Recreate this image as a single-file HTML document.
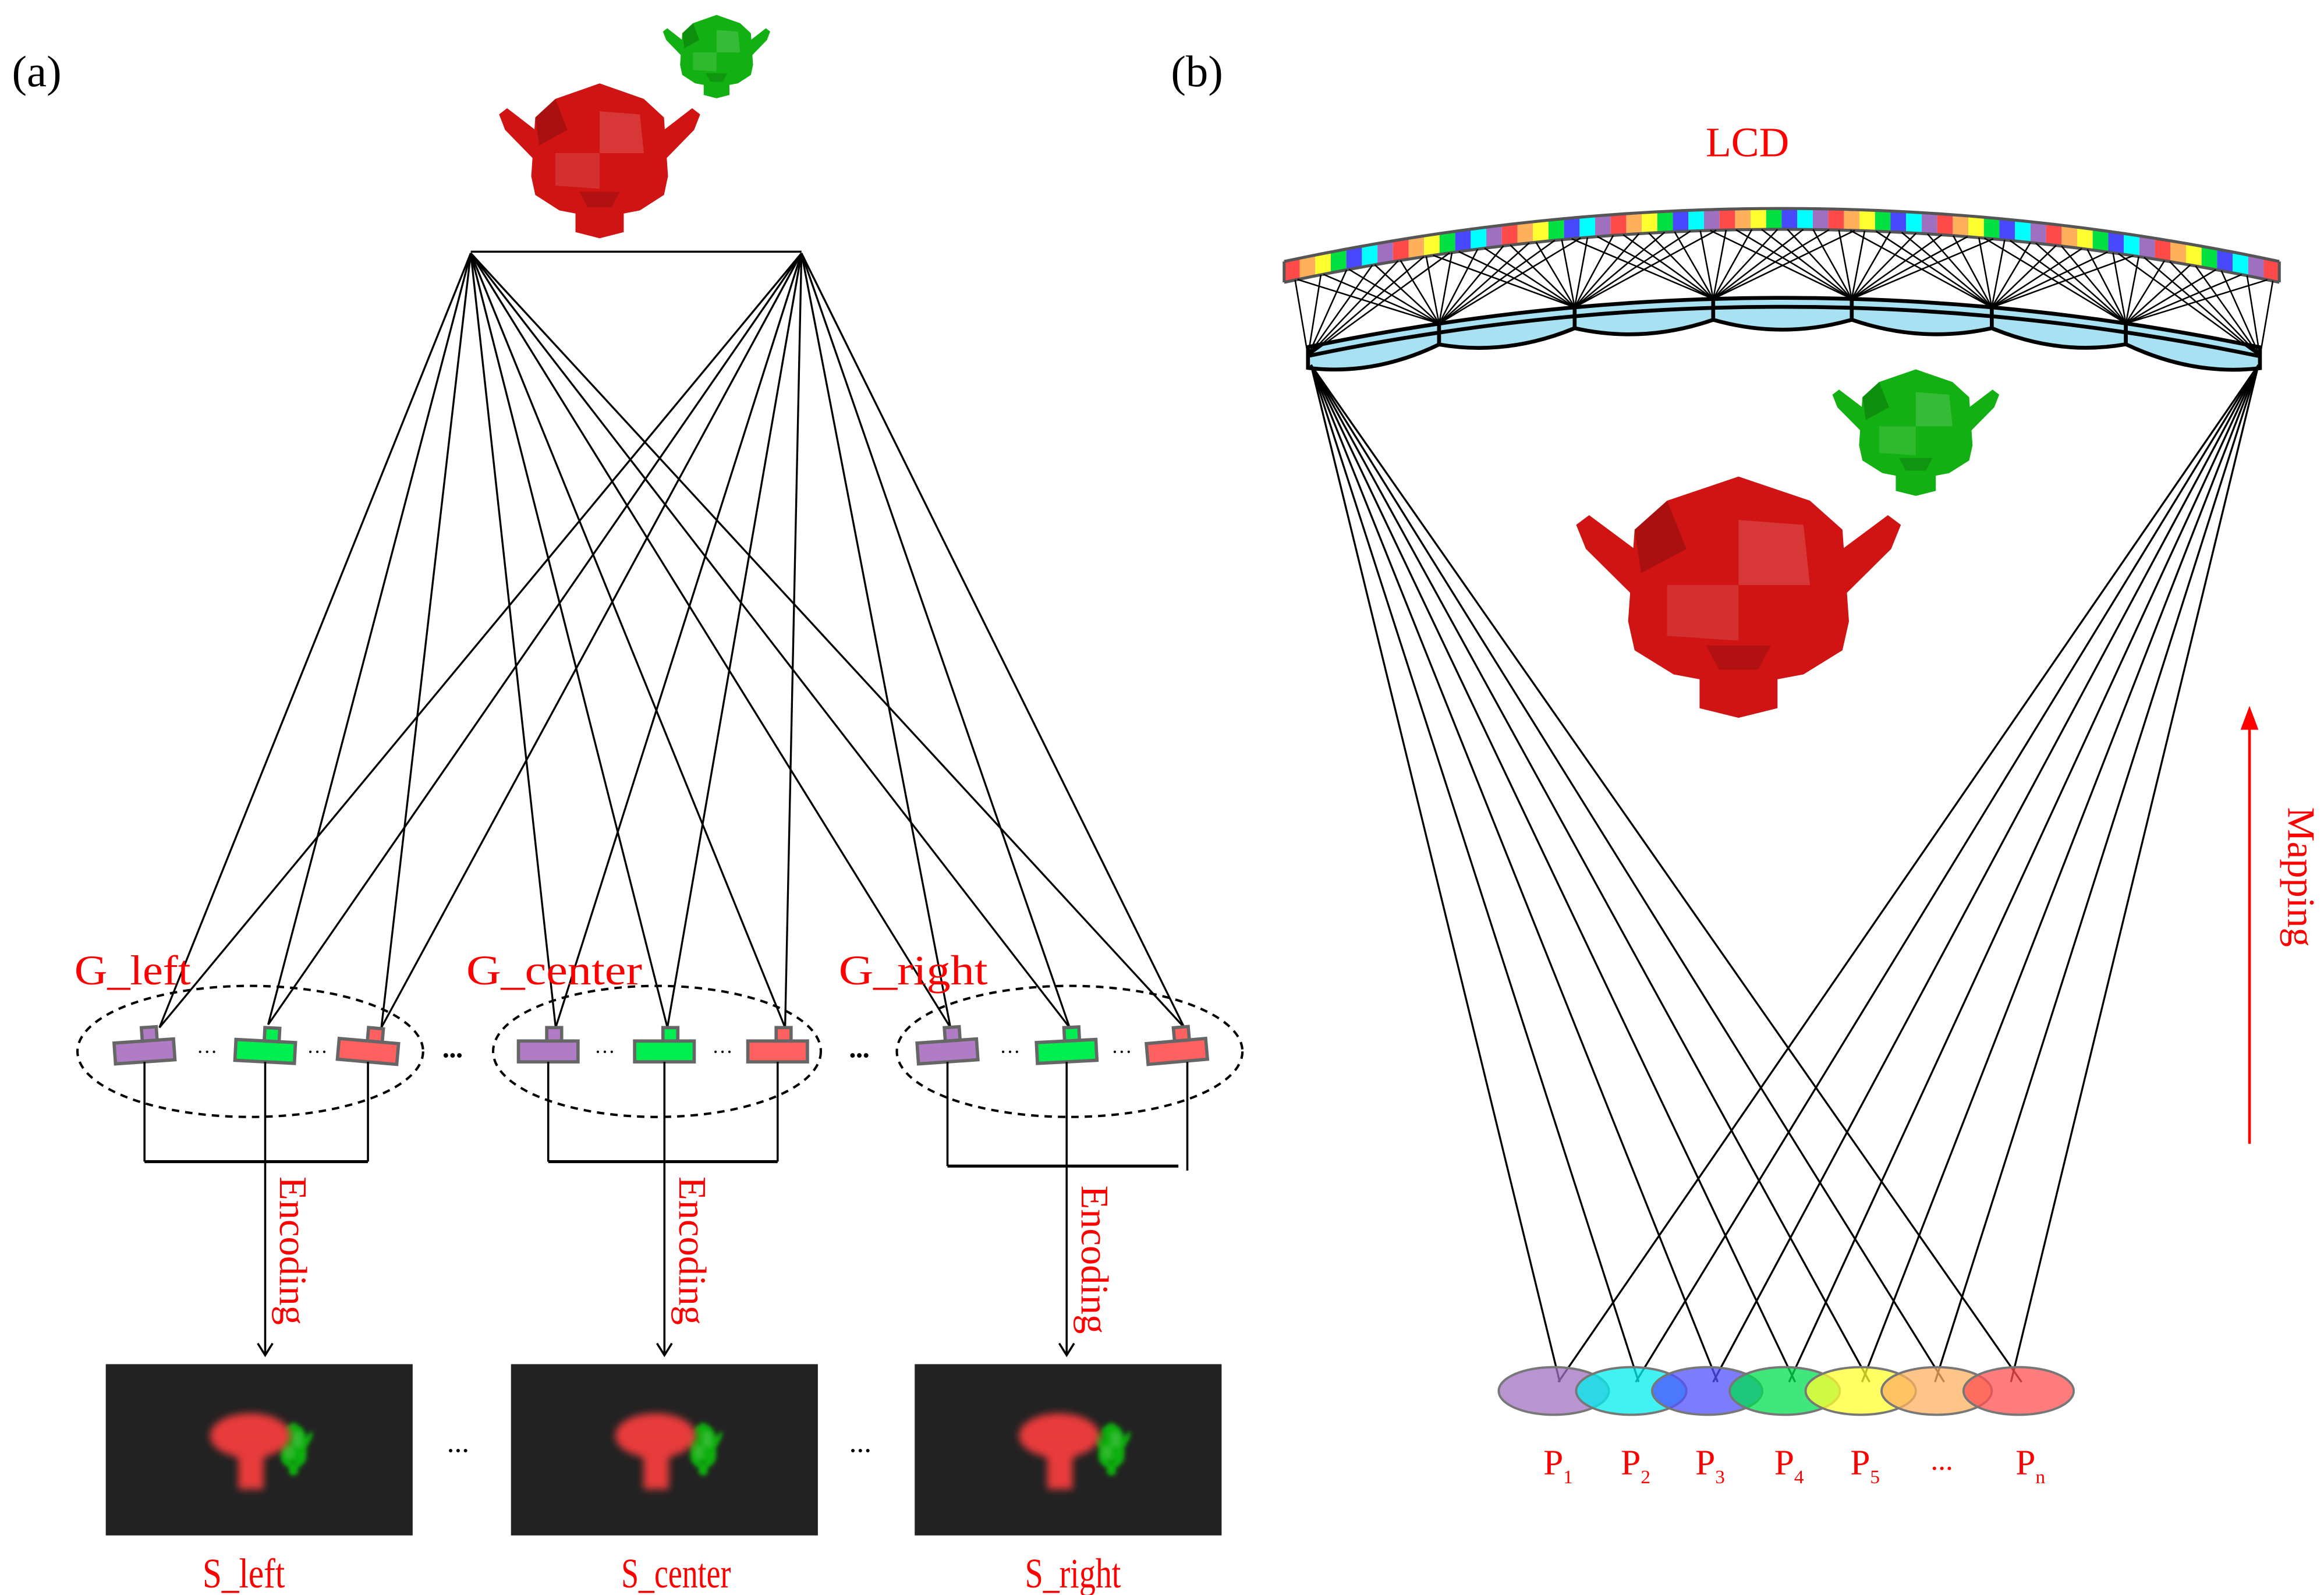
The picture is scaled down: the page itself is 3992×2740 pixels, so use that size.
<!DOCTYPE html>
<html><head><meta charset="utf-8"><style>
html,body{margin:0;padding:0;background:#fff}
svg{display:block}
text{font-family:"Liberation Serif",serif}
</style></head><body>
<svg id="s" width="3992" height="2740" viewBox="0 0 1560 1071" preserveAspectRatio="none" xmlns="http://www.w3.org/2000/svg">
<defs>
<symbol id="mk" viewBox="0 0 100 100" preserveAspectRatio="none">
<path d="M18,30 L4,16 L0,20 L3,30 L18,50 Z M82,30 L96,16 L100,20 L97,30 L82,50 Z"/>
<path d="M50,0 L72,10 L82,22 L84,60 L82,72 L70,82 L62,84 L62,96 L50,100 L38,96 L38,84 L30,82 L18,72 L16,60 L18,22 L28,10 Z"/>
<path d="M50,18 L70,20 L72,45 L50,45 Z" fill="#fff" opacity="0.15"/>
<path d="M28,45 L50,45 L50,68 L28,66 Z" fill="#fff" opacity="0.12"/>
<path d="M18,22 L28,10 L34,30 L20,40 Z" fill="#000" opacity="0.18"/>
<path d="M40,70 L60,70 L56,80 L44,80 Z" fill="#000" opacity="0.15"/>
</symbol>
<filter id="bl" x="-30%" y="-30%" width="160%" height="160%"><feGaussianBlur stdDeviation="2.5"/></filter>
<filter id="bl2" x="-30%" y="-30%" width="160%" height="160%"><feGaussianBlur stdDeviation="1.5"/></filter>
<marker id="ah" markerWidth="12" markerHeight="12" refX="10" refY="6" orient="auto" markerUnits="userSpaceOnUse" viewBox="0 0 12 12"><path d="M2,1 L10,6 L2,11" fill="none" stroke="#000" stroke-width="1.4"/></marker>
</defs>
<g id="a"></g>
<g id="b"></g>
</svg>
<script>
const NS="http://www.w3.org/2000/svg";
function el(par,tag,at,txt){const e=document.createElementNS(NS,tag);for(const k in at)e.setAttribute(k,at[k]);if(txt!==undefined)e.textContent=txt;document.getElementById(par).appendChild(e);return e;}
function line(p,x1,y1,x2,y2,w,c){el(p,'line',{x1,y1,x2,y2,stroke:c||'#000','stroke-width':w||1.2});}
function txt(p,x,y,s,size,col,extra){const a={x,y,'font-size':size,fill:col||'#000'};Object.assign(a,extra||{});el(p,'text',a,s);}

// ---- Panel (a)
txt('a',8,58,'(a)',30);
el('a','use',{href:'#mk',x:335,y:56,width:135,height:104,fill:'#d01414'});
el('a','use',{href:'#mk',x:445,y:10,width:72,height:56,fill:'#12b012'});
line('a',316,169,538,169,1.4);
const tabs=[[107,690],[180,688],[256,690],[373,690],[448,690],[527,690],[638,690],[718,690],[795,690]];
for(const t of tabs){line('a',316,170,t[0],t[1],1.3);line('a',538,170,t[0],t[1],1.3);}
for(const e of [[168,706,116,44],[441,706,110,44],[718,706,116,44]])
 el('a','ellipse',{cx:e[0],cy:e[1],rx:e[2],ry:e[3],fill:'none',stroke:'#000','stroke-width':1.6,'stroke-dasharray':'5,4'});
const cams=[[97,'#b07cc6',-4],[178,'#00ee50',3],[247,'#ff6060',5],[368,'#b07cc6',0],[446,'#00ee50',0],[522,'#ff6060',0],[636,'#b07cc6',-4],[716,'#00ee50',-3],[790,'#ff6060',-5]];
cams.forEach((c,i)=>{
 const g=el('a','g',{transform:`rotate(${c[2]} ${c[0]} 706)`});
 const r1=document.createElementNS(NS,'rect');
 [['x',c[0]-20],['y',699],['width',40],['height',14],['fill',c[1]],['stroke','#666'],['stroke-width',2.2]].forEach(a=>r1.setAttribute(a[0],a[1]));g.appendChild(r1);
 const r2=document.createElementNS(NS,'rect');
 [['x',c[0]-1],['y',690],['width',10],['height',9],['fill',c[1]],['stroke','#666'],['stroke-width',2.2]].forEach(a=>r2.setAttribute(a[0],a[1]));g.appendChild(r2);
});
for(const x of [138,212,405,484,677,752]) txt('a',x-6,711,'···',14);
txt('a',297,713,'•••',13);txt('a',570,713,'•••',13);
const br=[[97,178,247,780],[368,446,522,780],[636,716,797,783]];
br.forEach((b,i)=>{
 line('a',b[0],713,b[0],b[3],1.4);line('a',b[2],713,b[2],i==2?786:b[3],1.4);
 line('a',b[0],b[3],i==2?b[2]-6:b[2],b[3],2);
 el('a','line',{x1:b[1],y1:713,x2:b[1],y2:910,stroke:'#000','stroke-width':1.4,'marker-end':'url(#ah)'});
 txt('a',0,0,'Encoding',26,'#f00',{transform:`translate(${b[1]+10},${i==2?796:790}) rotate(90)`});
});
txt('a',50,661,'G_left',28,'#f00',{'textLength':78,'lengthAdjust':'spacingAndGlyphs'});
txt('a',313,661,'G_center',28,'#f00',{'textLength':118,'lengthAdjust':'spacingAndGlyphs'});
txt('a',563,661,'G_right',28,'#f00',{'textLength':100,'lengthAdjust':'spacingAndGlyphs'});
const sc=[[71,'S_left',171],[343,'S_center',452],[614,'S_right',723]];
sc.forEach((s,i)=>{
 el('a','rect',{x:s[0],y:916,width:206,height:115,fill:'#222'});
 const cx=s[0]+103, sh=i*3;
 el('a','use',{href:'#mk',x:cx+10+sh,y:955,width:26,height:36,fill:'#10b010',filter:'url(#bl2)'});
 el('a','ellipse',{cx:cx-6,cy:964,rx:27,ry:15,fill:'#e83a3a',filter:'url(#bl)'});
 el('a','rect',{x:cx-14,y:968,width:17,height:32,fill:'#e83a3a',filter:'url(#bl)'});
 txt('a',s[2]-35,1066,s[1],28,'#f00',{'textLength':s[1].length*9.2,'lengthAdjust':'spacingAndGlyphs'});
});
txt('a',300,975,'...',20);txt('a',570,975,'...',20);

// ---- Panel (b)
txt('b',786,58,'(b)',30);
txt('b',1145,105,'LCD',28,'#f00');
const kT=36/(336*336);
function lt(x){return 140+kT*(x-1196)*(x-1196);}
const cols=['#ff4a4a','#ffb05a','#ffff30','#00e040','#4848ff','#00ffff','#a070c0'];
const N=64,x0=862,x1=1530,pw=(x1-x0)/N;
for(let i=0;i<N;i++){
 const a=x0+i*pw,b=a+pw;
 el('b','polygon',{points:`${a},${lt(a)} ${b},${lt(b)} ${b},${lt(b)+14} ${a},${lt(a)+14}`,fill:cols[i%7]});
}
let op='',ip='';
for(let x=x0;x<=x1+0.1;x+=4){op+=`${x},${lt(x)} `;}
for(let x=x1;x>=x0-0.1;x-=4){ip+=`${x},${lt(x)+14} `;}
el('b','polyline',{points:op,fill:'none',stroke:'#555','stroke-width':2});
el('b','polyline',{points:ip,fill:'none',stroke:'#555','stroke-width':2});
line('b',x0,lt(x0),x0,lt(x0)+14,2,'#555');line('b',x1,lt(x1),x1,lt(x1)+14,2,'#555');
const kL=33/(319*319);
function ll(x){return 200+kL*(x-1197)*(x-1197);}
const nodes=[878,966,1057,1150,1243,1337,1427,1517];
for(let j=0;j<7;j++){
 const a=nodes[j],b=nodes[j+1],m=(a+b)/2;
 const d=`M${a},${ll(a)} Q${m},${2*ll(m)-(ll(a)+ll(b))/2} ${b},${ll(b)} L${b},${ll(b)+14} Q${m},${ll(m)+28} ${a},${ll(a)+14} Z`;
 el('b','path',{d,fill:'#a8e2f2',stroke:'#000','stroke-width':2.6});
 el('b','path',{d:`M${a},${ll(a)+6} Q${m},${2*(ll(m)+6)-(ll(a)+ll(b)+12)/2} ${b},${ll(b)+6}`,fill:'none',stroke:'#000','stroke-width':2.6});
}
nodes.forEach((n,j)=>{
 const ny=ll(n)+ (j==0||j==7?6:0);
 for(let k=0;k<12;k++){
  let x=n-95+k*(190/11);
  if(x<x0+4||x>x1-4)continue;
  line('b',n,ny,x,lt(x)+14,1);
 }
});
el('b','use',{href:'#mk',x:1230,y:248,width:112,height:85,fill:'#12b012'});
el('b','use',{href:'#mk',x:1058,y:320,width:218,height:162,fill:'#d01414'});
const ends=[1047,1100,1153,1205,1255,1305,1357];
for(const e of ends){line('b',880,245,e,928,1.3);line('b',1516,245,e-4+ (e-1200)*-0.02,928,1.3);}
const ec=['#a070c0','#00eeee','#5050ff','#00e050','#ffff30','#ffb060','#ff5050'];
const ex=[1043,1095,1146,1198,1249,1300,1355];
ex.forEach((x,i)=>el('b','ellipse',{cx:x,cy:934,rx:37,ry:16,fill:ec[i],'fill-opacity':0.75,stroke:'#777','stroke-width':1.5}));
const lab=['1','2','3','4','5',null,'n'];
const lx=[1036,1088,1138,1191,1242,1296,1353];
lab.forEach((s,i)=>{
 if(s===null){txt('b',lx[i],987,'...',20,'#f00');return;}
 const t=el('b','text',{x:lx[i],y:990,'font-size':24,fill:'#f00'},'P');
 const ts=document.createElementNS(NS,'tspan');ts.setAttribute('font-size',13);ts.setAttribute('dy',6);ts.textContent=s;t.appendChild(ts);
});
line('b',1510,768,1510,488,1.8,'#f00');
el('b','polygon',{points:'1510,474 1504,490 1516,490',fill:'#f00'});
txt('b',0,0,'Mapping',26,'#f00',{transform:'translate(1536,542) rotate(90)'});
</script>
</body></html>
